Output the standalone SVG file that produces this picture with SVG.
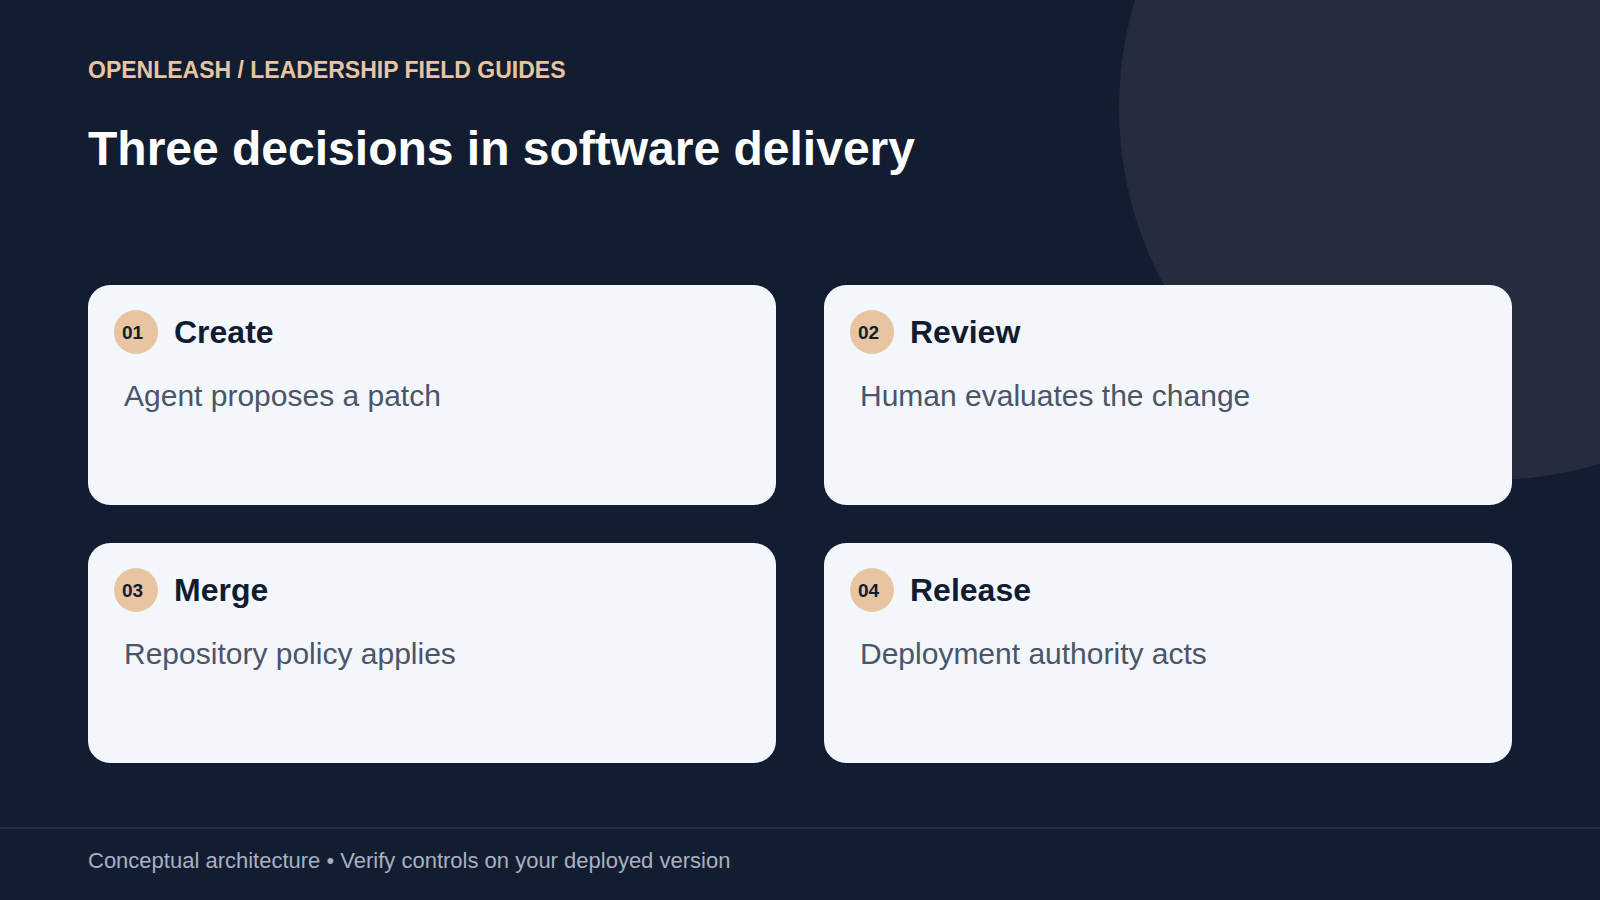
<svg xmlns="http://www.w3.org/2000/svg" width="1600" height="900" viewBox="0 0 1600 900">
  <style>
    .eyebrow { font-family: "Liberation Sans", Arial, sans-serif; font-weight: 700; font-size: 23px; fill: #e8c4a0; }
    .title { font-family: "Liberation Sans", Arial, sans-serif; font-weight: 700; font-size: 48px; fill: #ffffff; }
    .card { fill: #f3f6fb; }
    .badge { fill: #e8c4a0; }
    .num { font-family: "Liberation Sans", Arial, sans-serif; font-weight: 700; font-size: 19px; fill: #111c30; text-anchor: middle; }
    .head { font-family: "Liberation Sans", Arial, sans-serif; font-weight: 700; font-size: 32px; fill: #111c30; }
    .desc { font-family: "Liberation Sans", Arial, sans-serif; font-size: 30px; fill: #4a5568; }
    .foot { font-family: "Liberation Sans", Arial, sans-serif; font-size: 22px; fill: #a7b1c0; }
  </style>
  <rect x="0" y="0" width="1600" height="900" fill="#121d32"/>
  <circle cx="1491" cy="108" r="372" fill="#242c3d"/>

  <text class="eyebrow" x="88" y="78">OPENLEASH / LEADERSHIP FIELD GUIDES</text>
  <text class="title" x="88" y="165">Three decisions in software delivery</text>

  <g id="node-create">
    <rect class="card" x="88" y="285" width="688" height="220" rx="22"/>
    <circle class="badge" cx="136" cy="332" r="22"/>
    <text class="num" x="132.5" y="339">01</text>
    <text class="head" x="174" y="343">Create</text>
    <text class="desc" x="124" y="406">Agent proposes a patch</text>
  </g>
  <g id="node-review">
    <rect class="card" x="824" y="285" width="688" height="220" rx="22"/>
    <circle class="badge" cx="872" cy="332" r="22"/>
    <text class="num" x="868.5" y="339">02</text>
    <text class="head" x="910" y="343">Review</text>
    <text class="desc" x="860" y="406">Human evaluates the change</text>
  </g>
  <g id="node-merge">
    <rect class="card" x="88" y="543" width="688" height="220" rx="22"/>
    <circle class="badge" cx="136" cy="590" r="22"/>
    <text class="num" x="132.5" y="597">03</text>
    <text class="head" x="174" y="601">Merge</text>
    <text class="desc" x="124" y="664">Repository policy applies</text>
  </g>
  <g id="node-release">
    <rect class="card" x="824" y="543" width="688" height="220" rx="22"/>
    <circle class="badge" cx="872" cy="590" r="22"/>
    <text class="num" x="868.5" y="597">04</text>
    <text class="head" x="910" y="601">Release</text>
    <text class="desc" x="860" y="664">Deployment authority acts</text>
  </g>
  <g id="connectors"/>

  <rect x="0" y="827" width="1600" height="2" fill="#232c3d"/>
  <text class="foot" x="88" y="868">Conceptual architecture • Verify controls on your deployed version</text>
</svg>
